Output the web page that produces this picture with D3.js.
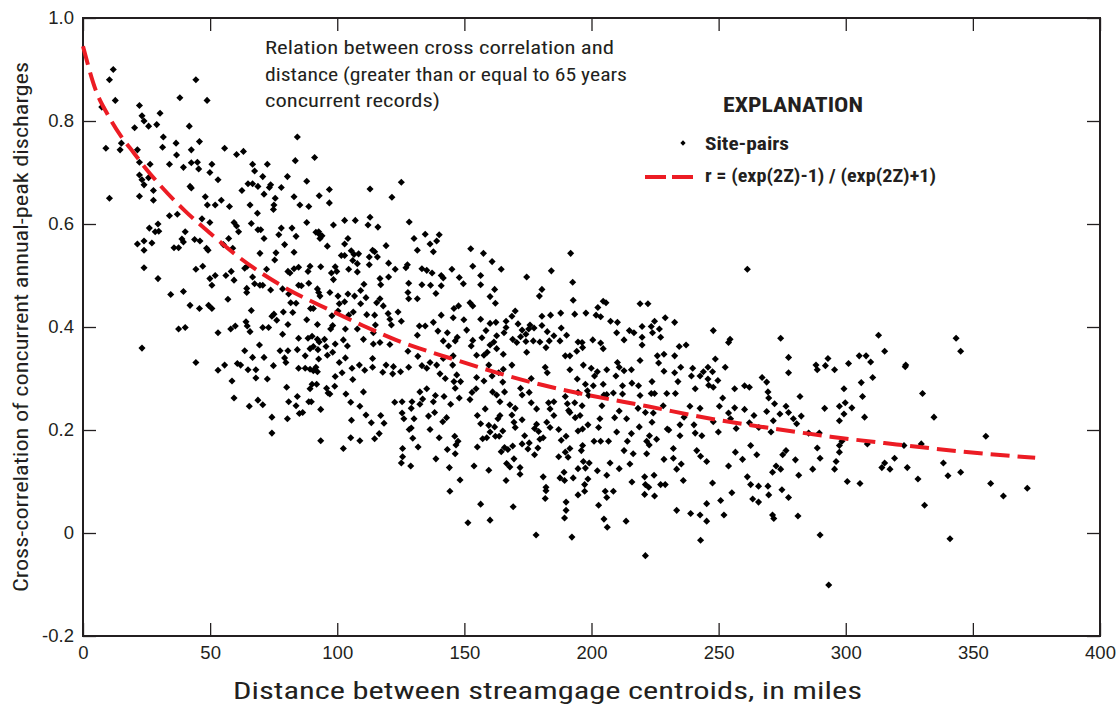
<!DOCTYPE html>
<html><head><meta charset="utf-8">
<script src="https://cdn.jsdelivr.net/npm/d3@7"></script>
<style>
body{margin:0;background:#fff;}
svg{display:block;font-family:"Liberation Sans Narrow","Roboto Condensed","Arial Narrow",sans-serif;}
</style></head><body>
<svg id="chart" width="1118" height="707"></svg>
<script>
const xTicks=[0,50,100,150,200,250,300,350,400];
const yTicks=[-0.2,0,0.2,0.4,0.6,0.8,1.0];
const yTickLabels=["-0.2","0","0.2","0.4","0.6","0.8","1.0"];
const xTitle="Distance between streamgage centroids, in miles";
const yTitle="Cross-correlation of concurrent annual-peak discharges";
const noteLines=["Relation between cross correlation and","distance (greater than or equal to 65 years","concurrent records)"];
const legendTitle="EXPLANATION";
const legendLabels=["Site-pairs","r = (exp(2Z)-1) / (exp(2Z)+1)"];
const curveDist=[0,5,10,15,20,25,30,40,50,62,77.5,97,110,123,146,163,178.5,195.5,222,248,274,294,320,346,374.5];
const curveR=[0.945,0.86,0.81,0.77,0.738,0.706,0.677,0.626,0.582,0.533,0.482,0.433,0.403,0.375,0.337,0.311,0.29,0.271,0.246,0.221,0.201,0.187,0.172,0.158,0.146];
const sitePairs=[
[11.9,0.90],[10.4,0.88],[44.4,0.88],[12.7,0.84],[38.1,0.845],[48.8,0.84],[22.2,0.83],[23.2,0.81],[30.3,0.815],[24,0.80],[25.8,0.79],[29,0.793],[20.3,0.787],[41.8,0.79],[31.6,0.769],[15.1,0.757],[9,0.747],[14.6,0.744],[21.4,0.744],[31.3,0.749],[36.6,0.757],[45.8,0.76],[55.7,0.747],[60.4,0.735],[63.1,0.741],[84.3,0.769],[91.1,0.729],[83.5,0.723],[36.8,0.734],[42.6,0.744],[22.2,0.72],[26.4,0.716],[34,0.716],[39.5,0.71],[42.6,0.719],[45,0.72],[45.5,0.707],[50.7,0.716],[49.9,0.70],[53.1,0.686],[66.7,0.716],[67.5,0.703],[70.7,0.692],[72.5,0.716],[80.4,0.692],[88,0.683],[22.2,0.695],[23.2,0.686],[24,0.676],[25.8,0.69],[10.4,0.65],[22.2,0.654],[27.7,0.665],[27.7,0.646],[42.1,0.673],[42.6,0.67],[48.1,0.653],[48.9,0.637],[52,0.637],[54.4,0.646],[57.6,0.634],[62.5,0.665],[64.9,0.678],[66.7,0.678],[68.8,0.673],[71.2,0.658],[73.3,0.671],[73.8,0.676],[75.6,0.65],[75.1,0.637],[74.9,0.628],[78,0.671],[83,0.653],[85.3,0.637],[88.8,0.634],[92.9,0.655],[96.9,0.667],[96.9,0.641],[34,0.616],[37.1,0.619],[68.6,0.621],[65.7,0.637],[26.1,0.592],[29.5,0.60],[28.4,0.585],[29.8,0.586],[40.2,0.585],[46.8,0.61],[49.9,0.603],[59.4,0.603],[60.4,0.596],[61.2,0.585],[66.2,0.601],[68.8,0.589],[69.9,0.589],[71.2,0.572],[77,0.579],[78,0.592],[82.2,0.592],[83.8,0.576],[88,0.603],[91.6,0.584],[92.7,0.585],[93.2,0.572],[21.4,0.561],[24,0.567],[27.1,0.563],[24,0.549],[35.8,0.554],[37.6,0.554],[38.9,0.571],[39.5,0.565],[43.9,0.57],[46,0.567],[48.6,0.553],[49.2,0.549],[57.3,0.572],[55.2,0.56],[58.9,0.553],[69.6,0.543],[75.9,0.544],[79.3,0.56],[83,0.545],[92.9,0.58],[94,0.577],[96.1,0.557],[7.4,0.827],
[24,0.515],[29.5,0.494],[34.5,0.463],[39.5,0.469],[44.4,0.512],[47.1,0.518],[49.9,0.494],[50.7,0.481],[52,0.50],[56.2,0.50],[58.3,0.508],[59.4,0.491],[57,0.454],[66.2,0.432],[42.1,0.442],[45.8,0.436],[49.4,0.442],[50.7,0.436],[37.6,0.396],[40.2,0.399],[53.1,0.389],[58.1,0.396],[59.9,0.402],[64.1,0.41],[64.6,0.402],[65.7,0.391],[70.7,0.399],[73,0.399],[75.1,0.425],[74.3,0.421],[76.2,0.413],[78.8,0.429],[80.6,0.405],[82.5,0.428],[88,0.414],[92.2,0.405],[78.5,0.386],[23.2,0.359],[44.4,0.331],[53.1,0.316],[55.7,0.326],[60.7,0.329],[62,0.326],[64.9,0.317],[68,0.317],[68,0.301],[63.6,0.354],[66.7,0.341],[69.4,0.365],[71.2,0.341],[74.9,0.325],[77.5,0.354],[79.3,0.34],[79.8,0.331],[80.6,0.354],[84.3,0.356],[84.8,0.378],[87.4,0.344],[88.5,0.378],[89.3,0.358],[90.1,0.382],[90.6,0.362],[92.2,0.376],[92.4,0.356],[92.9,0.371],[95,0.376],[95.6,0.362],[96.1,0.345],[92.7,0.338],[91.6,0.322],[90.6,0.315],[89.3,0.318],[87.4,0.32],[84.8,0.32],[92.2,0.313],[80.1,0.283],[89.3,0.28],[90.1,0.289],[91.9,0.289],[95.8,0.281],[96.4,0.272],[80.9,0.255],[83.8,0.247],[84.3,0.265],[85.1,0.232],[86.4,0.234],[88.8,0.255],[89.8,0.255],[93.5,0.24],[74.3,0.225],[80.4,0.222],[74.3,0.194],[93.5,0.179],[58.6,0.295],[59.4,0.262],[65.4,0.246],[68.8,0.258],[70.7,0.249],[72.5,0.299],[63.6,0.514],[64.6,0.518],[66.7,0.497],[67.5,0.484],[69.6,0.481],[70.7,0.481],[72.2,0.512],[73.8,0.472],[78.5,0.474],[80.6,0.508],[81.4,0.505],[83,0.513],[84.8,0.516],[80.9,0.464],[81.7,0.447],[83.8,0.446],[84.8,0.481],[85.9,0.48],[88.8,0.485],[88.5,0.508],[89.3,0.518],[92.2,0.474],[92.7,0.467],[93.2,0.46],[89.5,0.436],[90.6,0.436],[93.5,0.517],[64.4,0.475],[64.4,0.467],[75.4,0.53],
[112.9,0.668],[121.5,0.652],[125.2,0.681],[102.9,0.607],[107.1,0.607],[112.9,0.613],[112.1,0.598],[116,0.594],[98.5,0.598],[128.3,0.604],[130.2,0.572],[131.5,0.549],[134.6,0.58],[136.5,0.561],[139.1,0.567],[140.1,0.579],[137.8,0.546],[104.2,0.572],[102.9,0.561],[101.6,0.539],[102.9,0.539],[105.5,0.548],[106.6,0.541],[108.4,0.542],[106.1,0.529],[107.9,0.523],[112.6,0.536],[112.6,0.521],[113.9,0.549],[114.7,0.546],[115.8,0.536],[119.2,0.558],[120.2,0.524],[99.2,0.517],[99.8,0.508],[97.7,0.505],[98.5,0.492],[104.5,0.512],[107.9,0.507],[110.5,0.483],[116.8,0.494],[117.1,0.482],[120.2,0.497],[122.8,0.512],[127,0.515],[127.6,0.521],[128.1,0.485],[127.8,0.467],[128.1,0.455],[131.5,0.455],[133.3,0.513],[135.2,0.51],[137.3,0.505],[133.3,0.482],[136.7,0.481],[138.8,0.465],[140.9,0.50],[141.7,0.495],[140.9,0.48],[145.1,0.512],[148,0.496],[149.6,0.484],[152.5,0.552],[153.3,0.518],[156.4,0.50],[156.4,0.482],[157.5,0.543],[160.9,0.527],[164.5,0.512],[174.5,0.497],[184.2,0.509],[191.8,0.543],[192.6,0.487],[192.8,0.452],[180.5,0.473],[179.5,0.46],[97.1,0.467],[100.3,0.46],[100.8,0.445],[102.9,0.449],[104.2,0.464],[106.8,0.46],[109.2,0.471],[109.2,0.445],[111.3,0.457],[115.5,0.447],[116.8,0.455],[118.1,0.441],[114.7,0.423],[111.6,0.424],[120,0.426],[123.9,0.429],[120.7,0.415],[121.3,0.404],[125.2,0.411],[97.9,0.422],[100.3,0.431],[104.5,0.423],[106.3,0.429],[98.2,0.403],[103.2,0.396],[107.9,0.396],[110.3,0.376],[114.2,0.389],[114.2,0.367],[115,0.404],[116.8,0.37],[120.7,0.366],[127.8,0.353],[131.5,0.384],[132.3,0.402],[134.6,0.402],[137.8,0.409],[139.6,0.392],[140.9,0.423],[141.7,0.373],[143.3,0.389],[143.8,0.363],[146.4,0.373],[147.2,0.38],[147.7,0.441],[145.9,0.436],[149.8,0.414],[150.9,0.394],[145.6,0.418],[152.2,0.447],[153.3,0.441],[156.4,0.415],[158.5,0.393],[160.1,0.407],[160.1,0.459],[161.9,0.473],[162.2,0.446],[162.4,0.409],[166.4,0.411],[166.4,0.399],[168.7,0.421],[170,0.431],[171.1,0.406],[172.7,0.394],[175.3,0.396],[175.8,0.404],[177.4,0.398],[180.5,0.421],[180.5,0.403],[182.6,0.391],[183.4,0.373],[183.9,0.423],[187.9,0.427],[188.1,0.398],[190.2,0.384],[193.4,0.425],[153.3,0.374],[152.7,0.363],[156.9,0.379],[160.1,0.365],[161.6,0.371],[162.7,0.383],[165.6,0.389],[165.3,0.347],[169,0.376],[170.6,0.37],[172.1,0.381],[174.2,0.372],[174.2,0.386],[174.5,0.351],[177.1,0.373],[179.7,0.371],[182.1,0.36],[185.2,0.383],[187.6,0.373],[189.7,0.344],[191.5,0.344],[194.2,0.353],[194.7,0.371],[154.8,0.345],[157.7,0.345],[159,0.351],[162.7,0.358],[98.2,0.351],[99.2,0.367],[102.4,0.375],[97.4,0.396],[104,0.363],[103.2,0.34],[131.7,0.343],[113.9,0.339],[141.7,0.339],[145.6,0.344],
[100.8,0.331],[99.2,0.304],[101.9,0.311],[105.8,0.32],[108.7,0.326],[110.8,0.316],[113.9,0.322],[117.9,0.312],[119.2,0.326],[122.1,0.323],[121.8,0.309],[124.9,0.313],[128.1,0.322],[133.3,0.325],[135.2,0.32],[136.5,0.331],[139.1,0.326],[140.4,0.309],[142.5,0.30],[145.4,0.326],[147,0.307],[145.9,0.294],[146.4,0.281],[148.5,0.294],[148,0.262],[152.2,0.259],[153,0.273],[154.6,0.28],[154.8,0.302],[157.7,0.295],[159.6,0.326],[160.9,0.305],[163.5,0.311],[165.1,0.293],[165.3,0.318],[168.7,0.326],[161.1,0.274],[162.7,0.268],[164,0.255],[165.8,0.274],[167.9,0.249],[170,0.242],[172.1,0.281],[172.7,0.268],[175.5,0.273],[176.3,0.30],[176.3,0.253],[178.4,0.241],[181.8,0.322],[182.6,0.311],[183.1,0.253],[185.2,0.255],[183.7,0.241],[189.7,0.265],[190.5,0.251],[191,0.238],[191.5,0.317],[194.4,0.299],[193.4,0.253],[194.7,0.273],[193.6,0.224],[191.5,0.234],[106.1,0.298],[103.4,0.27],[105.3,0.254],[99,0.285],[97.1,0.27],[110.3,0.274],[108.9,0.246],[111.3,0.229],[113.4,0.214],[117.1,0.228],[118.4,0.213],[116.5,0.193],[114.7,0.183],[108.9,0.179],[105.3,0.185],[102.4,0.164],[105.6,0.219],[122.6,0.254],[125.5,0.233],[126.2,0.222],[125.5,0.255],[129.1,0.242],[129.4,0.255],[130.2,0.222],[129.1,0.204],[132.5,0.274],[133.6,0.26],[132.5,0.25],[135.2,0.28],[137.8,0.255],[138.6,0.267],[142,0.265],[144.6,0.25],[135.9,0.227],[136.5,0.201],[138.3,0.234],[141.5,0.216],[143,0.224],[140.1,0.185],[128.3,0.201],[129.7,0.184],[125.7,0.164],[131.8,0.167],[125.7,0.148],[125.2,0.136],[128.9,0.13],[138.8,0.144],[143.3,0.162],[144.1,0.127],[146.7,0.171],[147.5,0.178],[146.4,0.154],[146.2,0.188],[148.3,0.103],[144.3,0.081],[153.8,0.13],[155.1,0.167],[159.6,0.122],[156.4,0.212],[157.2,0.183],[158.8,0.185],[159.6,0.209],[161.9,0.206],[162.2,0.188],[163.7,0.188],[163.2,0.222],[165.1,0.198],[165.8,0.166],[167.1,0.162],[169,0.169],[164.5,0.158],[166.6,0.135],[167.9,0.128],[169.5,0.144],[171.9,0.127],[171.9,0.114],[166.4,0.102],[170,0.205],[172.7,0.22],[168.7,0.229],[169.5,0.215],[173.7,0.189],[175.5,0.175],[172.7,0.173],[175,0.163],[177.6,0.203],[178.4,0.211],[179.2,0.197],[179.7,0.182],[177.6,0.152],[178.9,0.165],[181,0.185],[182.4,0.215],[183.7,0.205],[185.2,0.228],[187.1,0.201],[188.1,0.18],[190,0.188],[190.8,0.147],[189.7,0.157],[194.7,0.198],[187.1,0.148],[191.5,0.164],[181,0.109],[182.1,0.089],[182.1,0.082],[181.8,0.067],[187.6,0.107],[189.2,0.118],[189.4,0.102],[194.7,0.125],[192.8,0.107],[194.7,0.074],[190,0.06],[190,0.044],[189.4,0.029],[156.4,0.056],[160.1,0.025],[169.2,0.051],[151.4,0.02],[178.2,-0.004],[192.3,-0.008],[158.2,0.241],[160.1,0.196],[164,0.228],[155.1,0.228],
[261.3,0.512],[204.6,0.45],[205.7,0.447],[202.5,0.438],[197.8,0.427],[201.8,0.423],[203.6,0.42],[219.1,0.445],[222.2,0.445],[207.5,0.411],[210.2,0.409],[209.9,0.389],[212.8,0.375],[214.9,0.393],[216.7,0.389],[219.9,0.401],[219.9,0.38],[219.9,0.365],[223.5,0.401],[224.8,0.411],[224,0.389],[226.7,0.396],[227.2,0.38],[229,0.418],[232.7,0.409],[234.5,0.362],[237.2,0.365],[247.9,0.393],[253.9,0.37],[254.5,0.376],[274.4,0.378],[277.5,0.341],[277.5,0.311],[288.3,0.326],[288.8,0.317],[292,0.325],[293,0.339],[291.7,0.242],[196.3,0.37],[196.5,0.36],[200.5,0.375],[203.6,0.369],[204.6,0.358],[196.8,0.326],[199.9,0.32],[201.2,0.305],[200.7,0.286],[202.3,0.313],[197.6,0.289],[198.4,0.276],[206,0.317],[210.2,0.331],[210.9,0.322],[209.6,0.305],[212.8,0.315],[215.7,0.317],[212.2,0.286],[215.9,0.291],[219.1,0.335],[218.5,0.286],[219.1,0.267],[223.8,0.294],[223.5,0.271],[224.8,0.271],[225.9,0.344],[226.4,0.33],[228.5,0.347],[228.5,0.314],[229.6,0.271],[228.2,0.247],[232.7,0.344],[232.7,0.311],[233,0.271],[234,0.294],[235.1,0.322],[239.8,0.32],[239.3,0.305],[242.7,0.305],[240.8,0.28],[244,0.313],[245.8,0.322],[245.8,0.299],[246.1,0.287],[247.6,0.313],[247.9,0.283],[248.7,0.338],[249.7,0.296],[252.6,0.322],[256.3,0.28],[260.2,0.286],[262.1,0.283],[267.1,0.302],[268.9,0.293],[269.4,0.274],[269.7,0.262],[272,0.251],[276.5,0.246],[282,0.265],[282.5,0.227],[279.4,0.222],[280.7,0.212],[274.1,0.231],[271.5,0.218],[268.9,0.236],[263.9,0.228],[260.2,0.24],[256.3,0.243],[253.9,0.233],[254.7,0.222],[251.6,0.262],[250.3,0.246],[247.9,0.216],[242.7,0.242],[238.7,0.246],[236.4,0.225],[240.3,0.21],[234.8,0.21],[229.8,0.202],[223.8,0.215],[224.3,0.233],[221.2,0.234],[218.3,0.242],[218.8,0.206],[213.8,0.222],[210.9,0.237],[209.1,0.224],[204.6,0.289],[204.9,0.268],[204.1,0.247],[198.9,0.267],[196.3,0.247],[195.5,0.228],[203.3,0.222],[202.8,0.205],[198.6,0.21],[196.5,0.202],[209.9,0.196],[215.7,0.193],[222.8,0.189],[230.4,0.20],[234.8,0.189],[240.8,0.194],[243.4,0.189],[249.9,0.196],[256.9,0.203],[262.1,0.214],[265.8,0.205],[270.6,0.196],[277.5,0.234],[285.4,0.194],[289.6,0.194],[212.2,0.27],[206,0.269],[208.6,0.272],
[196.5,0.17],[196,0.16],[196.8,0.139],[199.1,0.136],[197.6,0.126],[198.6,0.105],[197.3,0.094],[197.3,0.081],[202.3,0.121],[202.8,0.054],[204.9,0.027],[206.2,0.011],[206,0.112],[207.3,0.136],[205.4,0.081],[206,0.069],[208.6,0.081],[210.9,0.125],[212.8,0.16],[215.1,0.134],[216.4,0.154],[215.9,0.099],[213.6,0.023],[221.2,-0.044],[220.9,0.109],[221.2,0.094],[222.5,0.089],[224.6,0.112],[224.8,0.072],[220.9,0.075],[221.7,0.154],[227.2,0.094],[229,0.094],[228.5,0.143],[232.2,0.164],[232.2,0.145],[233.5,0.124],[235.3,0.134],[236.1,0.102],[233.5,0.044],[239,0.038],[242.7,0.035],[242.9,-0.014],[245.3,0.023],[245.3,0.057],[241.4,0.16],[242.9,0.149],[245.3,0.139],[247.6,0.097],[250.8,0.063],[252.1,0.035],[253.9,0.13],[255.2,0.078],[256.6,0.157],[259.4,0.143],[261.3,0.109],[262.6,0.17],[262.6,0.094],[263.4,0.066],[265,0.152],[265.7,0.091],[265.7,0.06],[269.4,0.091],[269.7,0.074],[271.2,0.035],[271.7,0.028],[271.2,0.118],[272.6,0.13],[274.4,0.124],[275.2,0.152],[276.5,0.16],[274.9,0.084],[277.5,0.069],[280.2,0.142],[281.2,0.033],[281.5,0.112],[287,0.124],[288.8,0.165],[289.9,0.145],[289.9,-0.004],[293.3,-0.101],[201,0.178],[203.6,0.178],[206.7,0.178],[214.1,0.178],[221.7,0.178],[222.7,0.171],[225.6,0.182],
[312.9,0.384],[315.3,0.353],[343.4,0.378],[345.2,0.353],[305.3,0.344],[308,0.344],[309.8,0.332],[301.1,0.329],[295.6,0.317],[310.6,0.302],[323.4,0.323],[323.6,0.326],[306.1,0.292],[299.3,0.28],[306.6,0.265],[297.5,0.246],[299.8,0.253],[302.4,0.243],[299.3,0.231],[297.5,0.218],[307.4,0.225],[330.2,0.271],[334.7,0.225],[355.1,0.188],[298.5,0.178],[297.5,0.17],[297.5,0.157],[296.2,0.139],[295.6,0.124],[308.5,0.173],[322.9,0.17],[329.7,0.173],[319.2,0.145],[315.3,0.136],[314.2,0.127],[317.4,0.124],[324.2,0.127],[338.4,0.136],[340.2,0.111],[345.2,0.118],[328.4,0.105],[300.6,0.10],[305.6,0.096],[357,0.096],[362,0.072],[371.4,0.087],[331,0.054],[341,-0.011]
];

const svg=d3.select("#chart");
const x=d3.scaleLinear().domain([0,400]).range([83,1100]);
const y=d3.scaleLinear().domain([-0.2,1.0]).range([636,18]);
const ink="#231f20";
const red="#ec1c24";
const fnt=18.5;

// axes (inward ticks)
const gB=svg.append("g").attr("transform",`translate(0,${y(-0.2)})`)
  .call(d3.axisBottom(x).tickValues(xTicks).tickSize(-13).tickPadding(10).tickFormat(d3.format("d")));
const gT=svg.append("g").attr("transform",`translate(0,${y(1.0)})`)
  .call(d3.axisTop(x).tickValues(xTicks).tickSize(-13).tickFormat(""));
const gL=svg.append("g").attr("transform",`translate(${x(0)},0)`)
  .call(d3.axisLeft(y).tickValues(yTicks).tickSize(-13).tickPadding(9).tickFormat((d,i)=>yTickLabels[i]));
const gR=svg.append("g").attr("transform",`translate(${x(400)},0)`)
  .call(d3.axisRight(y).tickValues(yTicks).tickSize(-13).tickFormat(""));
[gB,gT,gL,gR].forEach(g=>{
  g.select(".domain").remove();
  g.selectAll(".tick line").attr("stroke",ink).attr("stroke-width",1.3);
  g.selectAll(".tick text").attr("fill",ink).style("font-size",fnt+"px").style("font-family",null);
});

// frame
svg.append("rect").attr("x",x(0)).attr("y",y(1.0)).attr("width",x(400)-x(0)).attr("height",y(-0.2)-y(1.0))
  .attr("fill","none").attr("stroke",ink).attr("stroke-width",2);

// points
const diamond=d3.symbol().type(d3.symbolSquare).size(25);
svg.append("g").selectAll("path").data(sitePairs).join("path")
  .attr("d",diamond)
  .attr("transform",d=>`translate(${x(d[0])},${y(d[1])}) rotate(45)`)
  .attr("fill","#000");

// fitted curve
const curvePts=curveDist.map((d,i)=>[d,curveR[i]]);
svg.append("path").datum(curvePts)
  .attr("d",d3.line().x(d=>x(d[0])).y(d=>y(d[1])).curve(d3.curveMonotoneX))
  .attr("fill","none").attr("stroke",red).attr("stroke-width",4).attr("stroke-dasharray","19,8");

// titles
function fitText(sel,len){ return sel.attr("textLength",len).attr("lengthAdjust","spacingAndGlyphs"); }
fitText(svg.append("text").attr("x",233).attr("y",699)
  .attr("fill",ink).style("font-size","24px").text(xTitle),629);
fitText(svg.append("text").attr("transform","translate(28,592) rotate(-90)")
  .attr("fill",ink).style("font-size","20px").text(yTitle),530);

// note
const noteLens=[349,362,175];
svg.append("g").selectAll("text").data(noteLines).join("text")
  .attr("x",265).attr("y",(d,i)=>54+i*26.5).attr("fill",ink).style("font-size","18.5px")
  .attr("textLength",(d,i)=>noteLens[i]).attr("lengthAdjust","spacingAndGlyphs").text(d=>d);

// legend
fitText(svg.append("text").attr("x",723).attr("y",111.5).attr("fill",ink)
  .style("font-size","21px").style("font-weight","bold").text(legendTitle),140);
svg.append("path").attr("d",d3.symbol().type(d3.symbolSquare).size(14))
  .attr("transform","translate(683,143) rotate(45)").attr("fill","#000");
fitText(svg.append("text").attr("x",705).attr("y",150).attr("fill",ink)
  .style("font-size","19px").style("font-weight","bold").text(legendLabels[0]),84);
svg.append("line").attr("x1",645).attr("x2",693).attr("y1",177).attr("y2",177)
  .attr("stroke",red).attr("stroke-width",4).attr("stroke-dasharray","21,6");
fitText(svg.append("text").attr("x",705).attr("y",182).attr("fill",ink)
  .style("font-size","19px").style("font-weight","bold").text(legendLabels[1]),231);
</script>
</body></html>
